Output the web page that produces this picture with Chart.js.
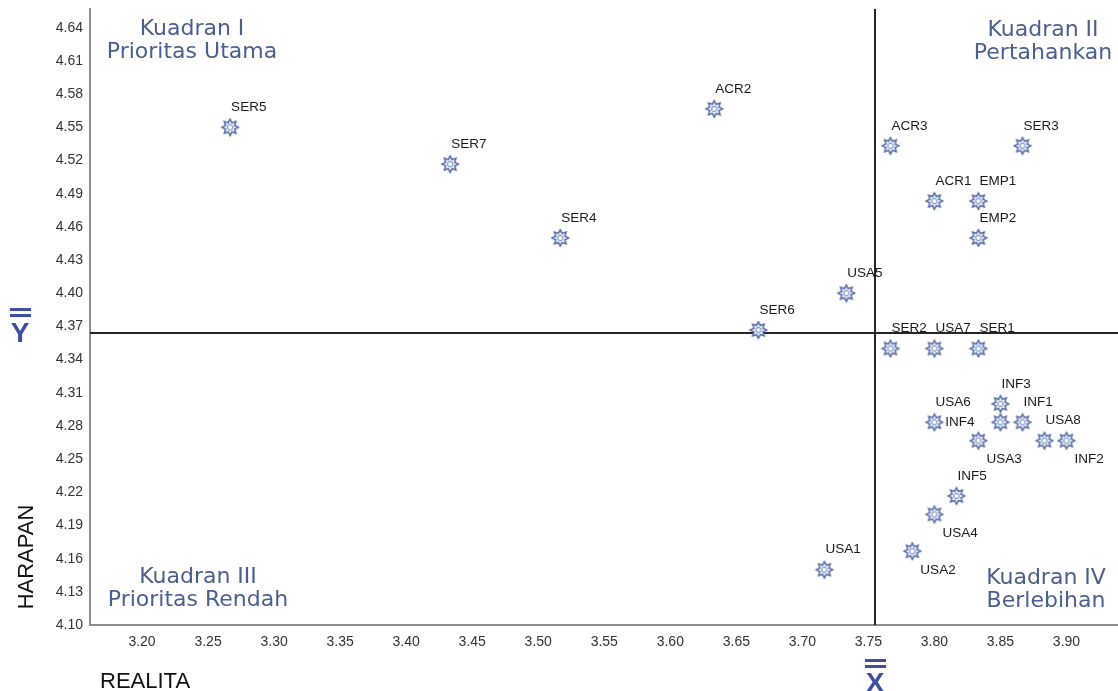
<!DOCTYPE html>
<html>
<head>
<meta charset="utf-8">
<script src="https://cdn.jsdelivr.net/npm/chart.js@4/dist/chart.umd.min.js"></script>
<style>
html,body{margin:0;padding:0;background:#ffffff;}
#wrap{width:1118px;height:691px;}
</style>
</head>
<body>
<div id="wrap"><canvas id="c" width="1118" height="691"></canvas></div>
<script>
// ---- data ----
const items   = ['SER1','SER2','SER3','SER4','SER5','SER6','SER7',
                 'ACR1','ACR2','ACR3','EMP1','EMP2',
                 'USA1','USA2','USA3','USA4','USA5','USA6','USA7','USA8',
                 'INF1','INF2','INF3','INF4','INF5'];
const realita = [3.8333,3.7667,3.8667,3.5167,3.2667,3.6667,3.4333,
                 3.8000,3.6333,3.7667,3.8333,3.8333,
                 3.7167,3.7833,3.8333,3.8000,3.7333,3.8000,3.8000,3.8833,
                 3.8667,3.9000,3.8500,3.8500,3.8167];
const harapan = [4.3500,4.3500,4.5333,4.4500,4.5500,4.3667,4.5167,
                 4.4833,4.5667,4.5333,4.4833,4.4500,
                 4.1500,4.1667,4.2667,4.2000,4.4000,4.2833,4.3500,4.2667,
                 4.2833,4.2667,4.3000,4.2833,4.2167];
const meanRealita = 3.755;
const meanHarapan = 4.364;
const xTickValues = [3.20,3.25,3.30,3.35,3.40,3.45,3.50,3.55,3.60,3.65,3.70,3.75,3.80,3.85,3.90];
const yTickValues = [4.10,4.13,4.16,4.19,4.22,4.25,4.28,4.31,4.34,4.37,4.40,4.43,4.46,4.49,4.52,4.55,4.58,4.61,4.64];
const xAxisTitle = 'REALITA';
const yAxisTitle = 'HARAPAN';
const quadrantTitles = [
  ['Kuadran I','Prioritas Utama'],
  ['Kuadran II','Pertahankan'],
  ['Kuadran III','Prioritas Rendah'],
  ['Kuadran IV','Berlebihan']
];

// ---- style / layout ----
const xMin = 3.1606, xMax = 3.939, yMin = 4.10, yMax = 4.657;
const labelPlacement = {USA2:'below', USA3:'below', USA4:'below', INF2:'below', INF4:'left'};
const SANS = '"Liberation Sans", Arial, sans-serif';

function makeStar(){
  const s = 22, c = document.createElement('canvas');
  c.width = s; c.height = s;
  const g = c.getContext('2d');
  const cx = s/2, cy = s/2;
  g.beginPath();
  for (let i = 0; i < 16; i++){
    const r = (i % 2 === 0) ? 8.3 : 5;
    const a = -Math.PI/2 + i*Math.PI/8;
    const px = cx + r*Math.cos(a), py = cy + r*Math.sin(a);
    if (i) g.lineTo(px,py); else g.moveTo(px,py);
  }
  g.closePath();
  g.fillStyle = '#e2eaf6'; g.fill();
  g.strokeStyle = '#4b64a0'; g.lineWidth = 1.4; g.stroke();
  g.beginPath(); g.arc(cx,cy,2.6,0,Math.PI*2);
  g.fillStyle = '#ffffff'; g.fill();
  g.strokeStyle = '#7088bb'; g.lineWidth = 1; g.stroke();
  return c;
}

const annot = {
  id: 'annot',
  afterDatasetsDraw(chart){
    const {ctx} = chart;
    const meta = chart.getDatasetMeta(0);
    ctx.save();
    ctx.font = '13.5px ' + SANS;
    ctx.fillStyle = '#1a1a1a';
    ctx.textBaseline = 'middle';
    meta.data.forEach((el,i) => {
      const name = items[i];
      const p = labelPlacement[name] || 'above';
      let tx, ty, align = 'left';
      if (p === 'above'){ tx = el.x + 1; ty = el.y - 20; }
      else if (p === 'below'){ tx = el.x + 8; ty = el.y + 19; }
      else { tx = el.x - 26; ty = el.y; align = 'right'; }
      ctx.textAlign = align;
      ctx.fillText(name, tx, ty);
    });
    ctx.restore();
  },
  afterDraw(chart){
    const {ctx, chartArea:a, scales:{x,y}} = chart;
    ctx.save();
    // quadrant titles
    ctx.font = '22px "DejaVu Sans", Verdana, sans-serif';
    ctx.fillStyle = '#4a5f8f';
    ctx.textAlign = 'center';
    ctx.textBaseline = 'middle';
    const qpos = [
      [a.left+102, a.top+20],
      [a.right-75, a.top+21],
      [a.left+108, a.bottom-48],
      [a.right-72, a.bottom-47]
    ];
    quadrantTitles.forEach((q,i) => {
      ctx.fillText(q[0], qpos[i][0], qpos[i][1]);
      ctx.fillText(q[1], qpos[i][0], qpos[i][1]+23);
    });
    // axis titles
    ctx.fillStyle = '#111111';
    ctx.font = '22px ' + SANS;
    ctx.textAlign = 'left';
    ctx.textBaseline = 'middle';
    ctx.fillText(xAxisTitle, 100, 682);
    ctx.save();
    ctx.translate(27, 557);
    ctx.rotate(-Math.PI/2);
    ctx.textAlign = 'center';
    ctx.fillText(yAxisTitle, 0, 0);
    ctx.restore();
    // mean symbols
    ctx.fillStyle = '#3e4fa0';
    ctx.font = 'bold 28px ' + SANS;
    ctx.textAlign = 'center';
    ctx.textBaseline = 'alphabetic';
    const yp = y.getPixelForValue(meanHarapan);
    ctx.fillText('Y', 20, yp + 9);
    ctx.fillRect(10, yp - 25, 21, 3);
    ctx.fillRect(10, yp - 19, 21, 3);
    const xp = x.getPixelForValue(meanRealita);
    ctx.fillText('X', xp, 692);
    ctx.fillRect(xp - 10, 659, 21, 3);
    ctx.fillRect(xp - 10, 665, 21, 3);
    ctx.restore();
  }
};

const points = items.map((n,i) => ({x: realita[i], y: harapan[i]}));

new Chart(document.getElementById('c'), {
  type: 'scatter',
  data: {
    datasets: [
      {
        label: 'Atribut',
        data: points,
        pointStyle: makeStar(),
        pointRadius: 9,
        order: 1
      },
      {
        label: 'Rata-rata Harapan',
        data: [{x: xMin, y: meanHarapan}, {x: xMax, y: meanHarapan}],
        showLine: true,
        borderColor: '#262626',
        borderWidth: 2,
        pointRadius: 0,
        order: 2
      },
      {
        label: 'Rata-rata Realita',
        data: [{x: meanRealita, y: yMin}, {x: meanRealita, y: yMax}],
        showLine: true,
        borderColor: '#262626',
        borderWidth: 2,
        pointRadius: 0,
        order: 2
      }
    ]
  },
  options: {
    responsive: false,
    devicePixelRatio: 1,
    animation: false,
    layout: {autoPadding: false, padding: {top: 9, right: 0, left: 0, bottom: 0}},
    plugins: {legend: {display: false}, tooltip: {enabled: false}},
    scales: {
      x: {
        type: 'linear',
        min: xMin, max: xMax,
        grid: {display: false, drawTicks: false},
        border: {display: true, color: '#8e8e8e', width: 2},
        afterBuildTicks: s => { s.ticks = xTickValues.map(v => ({value: v})); },
        afterFit: s => { s.height = 66; s.paddingLeft = 0; s.paddingRight = 0; },
        ticks: {
          autoSkip: false, maxRotation: 0, padding: 9,
          color: '#333333', font: {family: SANS, size: 14},
          callback: v => Number(v).toFixed(2)
        }
      },
      y: {
        type: 'linear',
        min: yMin, max: yMax,
        grid: {display: false, drawTicks: false},
        border: {display: true, color: '#8e8e8e', width: 2},
        afterBuildTicks: s => { s.ticks = yTickValues.map(v => ({value: v})); },
        afterFit: s => { s.width = 90; s.paddingTop = 0; s.paddingBottom = 0; },
        ticks: {
          autoSkip: false, padding: 7,
          color: '#333333', font: {family: SANS, size: 14},
          callback: v => Number(v).toFixed(2)
        }
      }
    }
  },
  plugins: [annot]
});
</script>
</body>
</html>
